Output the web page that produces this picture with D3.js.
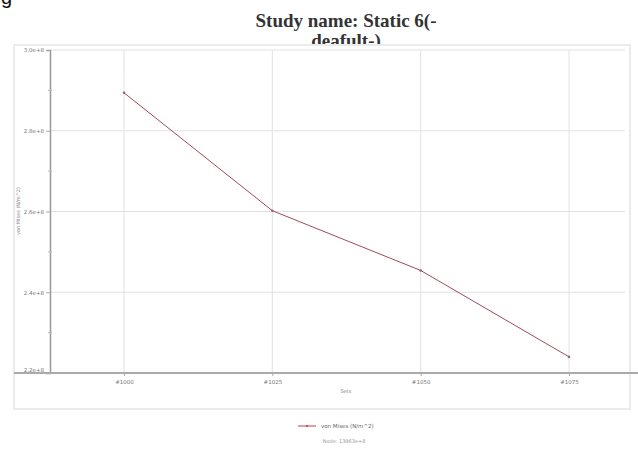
<!DOCTYPE html>
<html><head><meta charset="utf-8">
<script src="https://cdn.jsdelivr.net/npm/d3@7"></script>
<style>body{margin:0;background:#fff}svg{display:block}</style>
</head><body>
<svg id="c" width="638" height="449"></svg>
<script>
const categories = ["#1000", "#1025", "#1050", "#1075"];
const values = [2.894, 2.602, 2.454, 2.240];
const yTicks = [3.0, 2.8, 2.6, 2.4, 2.2];
const yTickLabels = ["3.0e+8", "2.8e+8", "2.6e+8", "2.4e+8", "2.2e+8"];
const yMinor = [2.9, 2.7, 2.5, 2.3];
const seriesName = "von Mises (N/m^2)";

const svg = d3.select("#c");
// partial glyph from preceding text
svg.append("text").attr("x", 1).attr("y", 4).attr("font-family", "Liberation Sans, Arial")
  .attr("font-size", 20).attr("fill", "#111").text("g");

// title
const title = svg.append("text").attr("font-family", "Liberation Serif, Times New Roman, serif")
  .attr("font-weight", "bold").attr("font-size", 19).attr("fill", "#333").attr("text-anchor", "middle");
title.append("tspan").attr("x", 346).attr("y", 27).text("Study name: Static 6(-");
title.append("tspan").attr("x", 346).attr("y", 47).text("deafult-)");

// panel
svg.append("rect").attr("x", 14).attr("y", 45).attr("width", 616).attr("height", 364)
  .attr("fill", "#fff").attr("stroke", "#ebebeb").attr("stroke-width", 2);

const x = d3.scalePoint().domain(categories).range([124, 569]);
const y = d3.scaleLinear().domain([2.2, 3.0]).range([373, 50]);

const g = svg.append("g");
// gridlines
g.selectAll(".hg").data(yTicks.slice(0, 4)).join("line").attr("x1", 50).attr("x2", 625)
  .attr("y1", d => y(d)).attr("y2", d => y(d)).attr("stroke", "#e2e2e2").attr("stroke-width", 1);
g.selectAll(".vg").data(categories).join("line").attr("x1", d => x(d)).attr("x2", d => x(d))
  .attr("y1", 50).attr("y2", 373).attr("stroke", "#e2e2e2").attr("stroke-width", 1);

// y axis
const yAxis = d3.axisLeft(y).tickValues(yTicks).tickFormat((d, i) => yTickLabels[i]).tickSize(4).tickPadding(2);
const ya = svg.append("g").attr("transform", "translate(50,0)").call(yAxis);
ya.select(".domain").attr("stroke", "#999").attr("stroke-width", 1.5);
ya.selectAll(".tick line").attr("stroke", "#aaa");
ya.selectAll("text").attr("font-size", 5.5).attr("fill", "#777").attr("font-family", "DejaVu Sans");
ya.selectAll(".tick:last-of-type text").attr("dy", "-0.3em");
svg.selectAll(".mn").data(yMinor).join("line").attr("x1", 48).attr("x2", 52)
  .attr("y1", d => y(d)).attr("y2", d => y(d)).attr("stroke", "#bbb");

// x axis
const xa = svg.append("g").attr("transform", "translate(0,373)").call(d3.axisBottom(x).tickSize(3));
xa.select(".domain").remove();
xa.selectAll(".tick line").attr("stroke", "#aaa");
xa.selectAll("text").attr("font-size", 5.5).attr("fill", "#777").attr("font-family", "DejaVu Sans").attr("dy", "0.9em");
svg.append("line").attr("x1", 14).attr("x2", 638).attr("y1", 373).attr("y2", 373).attr("stroke", "#aaa").attr("stroke-width", 2);

svg.append("text").attr("x", 346).attr("y", 393).attr("text-anchor", "middle").attr("font-size", 5)
  .attr("fill", "#888").attr("font-family", "DejaVu Sans").text("Sets");
svg.append("text").attr("transform", "translate(20,211) rotate(-90)").attr("text-anchor", "middle")
  .attr("font-size", 5).attr("fill", "#888").attr("font-family", "DejaVu Sans").text(seriesName);

// series
const pts = categories.map((c, i) => [x(c), y(values[i])]);
svg.append("path").attr("d", d3.line()(pts)).attr("fill", "none").attr("stroke", "#a04a5a").attr("stroke-width", 1);
svg.selectAll(".pt").data(pts).join("circle").attr("cx", d => d[0]).attr("cy", d => d[1]).attr("r", 1.3).attr("fill", "#8a6a74");

// legend
svg.append("line").attr("x1", 298).attr("x2", 316).attr("y1", 426).attr("y2", 426).attr("stroke", "#c04050").attr("stroke-width", 1);
svg.append("circle").attr("cx", 307).attr("cy", 426).attr("r", 1).attr("fill", "#c04050");
svg.append("text").attr("x", 321).attr("y", 428).attr("font-size", 5.5).attr("fill", "#666")
  .attr("font-family", "DejaVu Sans").text(seriesName);
svg.append("text").attr("x", 344).attr("y", 443).attr("text-anchor", "middle").attr("font-size", 5)
  .attr("fill", "#999").attr("font-family", "DejaVu Sans").text("Node: 13963e+8");
</script>
</body></html>
